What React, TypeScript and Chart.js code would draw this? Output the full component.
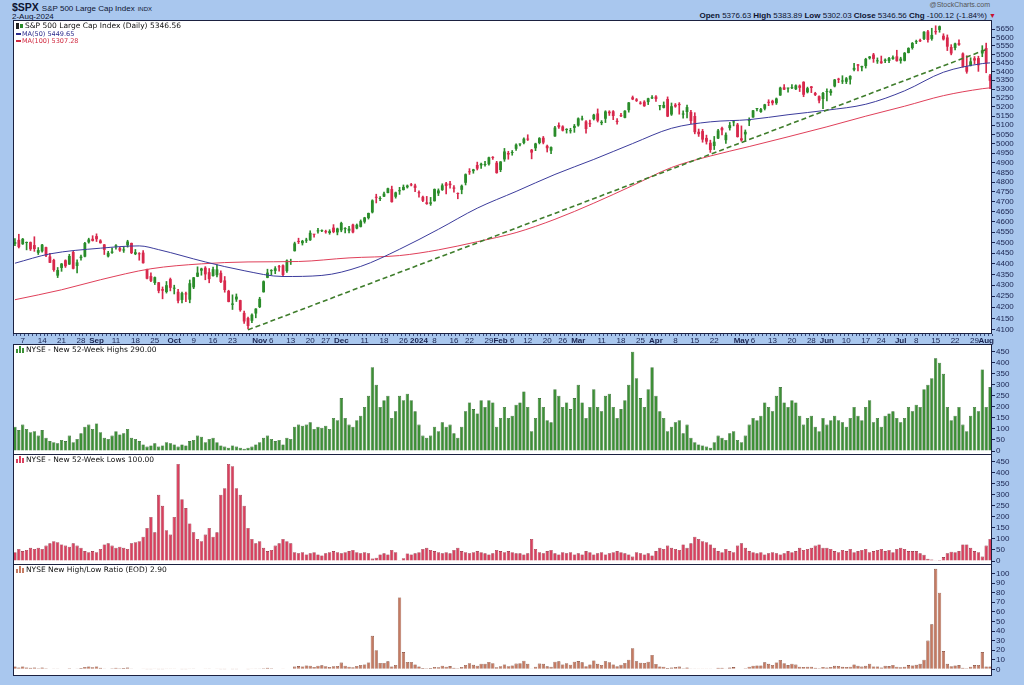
import React, { useEffect, useRef } from 'react';
import { Chart, registerables } from 'chart.js';
Chart.register(...registerables);

const FONT = "'Liberation Sans', Arial, sans-serif";
const LFONT = "'DejaVu Sans', Verdana, sans-serif";
const BG = '#a9c7ee';
const AXIS_C = '#1a2450';

// ---------- calendar (categories) ----------
const holidays = ['2023-09-04', '2023-11-23', '2023-12-25', '2024-01-01', '2024-01-15', '2024-02-19', '2024-03-29', '2024-05-27', '2024-06-19', '2024-07-04'];
function tradingDays(): string[] {
  const out: string[] = [];
  const d = new Date(Date.UTC(2023, 7, 3));
  const end = Date.UTC(2024, 7, 2);
  while (d.getTime() <= end) {
    const wd = d.getUTCDay();
    const s = d.toISOString().slice(0, 10);
    if (wd !== 0 && wd !== 6 && holidays.indexOf(s) < 0) out.push(s);
    d.setUTCDate(d.getUTCDate() + 1);
  }
  return out;
}
const dates = tradingDays();

// ---------- x tick labels ----------
const tickLabels: [string, string][] = [
  ['2023-08-07', '7'], ['2023-08-14', '14'], ['2023-08-21', '21'], ['2023-08-28', '28'], ['2023-09-01', 'Sep'], ['2023-09-11', '11'], ['2023-09-18', '18'], ['2023-09-25', '25'],
  ['2023-10-02', 'Oct'], ['2023-10-09', '9'], ['2023-10-16', '16'], ['2023-10-23', '23'], ['2023-11-01', 'Nov'], ['2023-11-06', '6'], ['2023-11-13', '13'], ['2023-11-20', '20'], ['2023-11-27', '27'],
  ['2023-12-01', 'Dec'], ['2023-12-11', '11'], ['2023-12-18', '18'], ['2023-12-26', '26'], ['2024-01-02', '2024'], ['2024-01-08', '8'], ['2024-01-16', '16'], ['2024-01-22', '22'], ['2024-01-29', '29'],
  ['2024-02-01', 'Feb'], ['2024-02-06', '6'], ['2024-02-12', '12'], ['2024-02-20', '20'], ['2024-02-26', '26'], ['2024-03-01', 'Mar'], ['2024-03-11', '11'], ['2024-03-18', '18'], ['2024-03-25', '25'],
  ['2024-04-01', 'Apr'], ['2024-04-08', '8'], ['2024-04-15', '15'], ['2024-04-22', '22'], ['2024-05-01', 'May'], ['2024-05-06', '6'], ['2024-05-13', '13'], ['2024-05-20', '20'], ['2024-05-28', '28'],
  ['2024-06-03', 'Jun'], ['2024-06-10', '10'], ['2024-06-17', '17'], ['2024-06-24', '24'], ['2024-07-01', 'Jul'], ['2024-07-08', '8'], ['2024-07-15', '15'], ['2024-07-22', '22'], ['2024-07-29', '29'], ['2024-08-01', 'Aug'],
];
const boldLabels = ['Sep', 'Oct', 'Nov', 'Dec', '2024', 'Feb', 'Mar', 'Apr', 'May', 'Jun', 'Jul', 'Aug'];

// ---------- S&P 500 daily OHLC (Aug 3 2023 .. Aug 2 2024) ----------
const opens = [
  4494, 4513, 4492, 4498, 4502, 4488, 4451, 4458, 4478, 4434, 4417, 4344, 4380, 4416, 4396, 4455, 4389, 4426, 4433, 4501, 4518,
  4531, 4510, 4491, 4434, 4451, 4480, 4473, 4462, 4487, 4498, 4445, 4447, 4452, 4375, 4342, 4310, 4313, 4282, 4269, 4328,
  4284, 4270, 4233, 4260, 4234, 4290, 4339, 4367, 4381, 4360, 4342, 4346, 4357, 4322, 4274, 4211, 4235, 4232, 4175, 4152, 4140, 4172,
  4201, 4268, 4334, 4365, 4366, 4384, 4392, 4365, 4407, 4459, 4505, 4497, 4509, 4511, 4539, 4554, 4555, 4555, 4546, 4572, 4549,
  4559, 4565, 4557, 4587, 4568, 4576, 4601, 4619, 4647, 4721, 4714, 4726, 4744, 4764, 4725, 4753, 4759, 4773, 4786, 4782,
  4745, 4725, 4697, 4690, 4703, 4742, 4759, 4793, 4792, 4772, 4740, 4760, 4796, 4853, 4856, 4888, 4886, 4888, 4892, 4926, 4900,
  4862, 4917, 4951, 4951, 4973, 4996, 5004, 5027, 4968, 4976, 5004, 5032, 4989, 4963, 5039, 5100, 5093, 5074, 5067, 5085,
  5098, 5131, 5120, 5109, 5133, 5164, 5111, 5135, 5174, 5176, 5124, 5154, 5140, 5182, 5254, 5242, 5220, 5229, 5227, 5248,
  5258, 5204, 5195, 5244, 5158, 5212, 5217, 5158, 5172, 5172, 5150, 5064, 5068, 5031, 5005, 4988, 5028, 5085, 5019, 5084, 5115, 5103,
  5029, 5050, 5122, 5142, 5188, 5172, 5190, 5225, 5234, 5221, 5264, 5310, 5303, 5305, 5299, 5320, 5341, 5282, 5315, 5278, 5260, 5244,
  5283, 5278, 5315, 5357, 5343, 5341, 5354, 5410, 5441, 5424, 5432, 5477, 5499, 5459, 5459, 5461, 5461, 5473, 5488,
  5462, 5462, 5508, 5537, 5572, 5584, 5591, 5636, 5591, 5638, 5645, 5610, 5600, 5543, 5537, 5566, 5505, 5429, 5433, 5477, 5478, 5505,
  5537, 5377,
];
const highs = [
  4519, 4540, 4520, 4503, 4503, 4528, 4476, 4491, 4478, 4449, 4421, 4382, 4401, 4418, 4444, 4458, 4418, 4440, 4501, 4521, 4533,
  4542, 4514, 4491, 4458, 4474, 4490, 4478, 4479, 4511, 4498, 4467, 4452, 4462, 4375, 4357, 4338, 4313, 4292, 4317, 4333,
  4300, 4281, 4268, 4268, 4324, 4336, 4385, 4379, 4386, 4377, 4384, 4394, 4366, 4340, 4277, 4256, 4260, 4232, 4183, 4156, 4171, 4194,
  4245, 4320, 4374, 4372, 4386, 4392, 4394, 4418, 4421, 4502, 4521, 4511, 4521, 4557, 4540, 4569, 4561, 4560, 4562, 4587, 4570,
  4599, 4572, 4579, 4590, 4590, 4610, 4623, 4644, 4710, 4738, 4726, 4749, 4769, 4779, 4749, 4773, 4785, 4785, 4793, 4789,
  4755, 4729, 4727, 4722, 4765, 4765, 4791, 4798, 4803, 4782, 4745, 4785, 4842, 4869, 4866, 4903, 4898, 4907, 4929, 4932, 4907,
  4906, 4975, 4960, 4964, 4999, 5000, 5031, 5048, 4970, 5003, 5033, 5039, 4993, 4984, 5094, 5112, 5097, 5081, 5083, 5104,
  5140, 5149, 5125, 5127, 5160, 5189, 5125, 5179, 5179, 5180, 5136, 5165, 5180, 5225, 5261, 5247, 5230, 5235, 5249, 5264,
  5263, 5209, 5228, 5256, 5222, 5219, 5224, 5178, 5211, 5181, 5168, 5079, 5077, 5046, 5019, 5039, 5077, 5089, 5058, 5115, 5124, 5110,
  5096, 5074, 5140, 5181, 5192, 5192, 5215, 5240, 5238, 5250, 5311, 5325, 5305, 5325, 5324, 5324, 5342, 5311, 5315, 5282, 5262, 5281,
  5302, 5299, 5355, 5362, 5376, 5366, 5376, 5447, 5442, 5432, 5477, 5488, 5506, 5479, 5490, 5473, 5483, 5491, 5524,
  5483, 5511, 5539, 5570, 5584, 5590, 5635, 5642, 5655, 5670, 5669, 5622, 5615, 5557, 5567, 5586, 5509, 5492, 5480, 5487, 5489, 5551,
  5566, 5384,
];
const lows = [
  4485, 4474, 4491, 4465, 4462, 4458, 4443, 4454, 4433, 4404, 4364, 4335, 4364, 4382, 4396, 4375, 4357, 4416, 4432, 4497, 4507,
  4505, 4497, 4443, 4431, 4448, 4468, 4458, 4453, 4478, 4447, 4442, 4416, 4402, 4329, 4316, 4303, 4265, 4238, 4264, 4274,
  4260, 4220, 4220, 4225, 4220, 4284, 4339, 4346, 4325, 4311, 4342, 4338, 4312, 4268, 4224, 4190, 4226, 4182, 4128, 4104, 4132, 4153,
  4198, 4268, 4334, 4348, 4353, 4365, 4344, 4359, 4396, 4459, 4495, 4488, 4500, 4510, 4526, 4545, 4553, 4545, 4540, 4547, 4537,
  4552, 4547, 4546, 4547, 4566, 4575, 4594, 4614, 4644, 4694, 4705, 4725, 4744, 4698, 4718, 4737, 4759, 4769, 4780, 4751,
  4723, 4700, 4687, 4682, 4703, 4731, 4757, 4740, 4769, 4748, 4715, 4740, 4785, 4839, 4845, 4862, 4870, 4882, 4887, 4917, 4845,
  4853, 4907, 4918, 4939, 4965, 4988, 4999, 5017, 4920, 4963, 4999, 4999, 4956, 4947, 5039, 5082, 5068, 5057, 5057, 5061,
  5094, 5127, 5056, 5092, 5128, 5117, 5102, 5114, 5153, 5130, 5105, 5146, 5140, 5171, 5240, 5230, 5215, 5203, 5213, 5246,
  5230, 5184, 5194, 5146, 5153, 5198, 5160, 5138, 5139, 5108, 5053, 5039, 5008, 4998, 4954, 4969, 5027, 5047, 5001, 5073, 5096, 5035,
  5013, 5012, 5097, 5142, 5178, 5170, 5183, 5207, 5211, 5214, 5264, 5296, 5283, 5302, 5297, 5286, 5257, 5278, 5280, 5263, 5222, 5191,
  5234, 5265, 5312, 5336, 5331, 5331, 5328, 5404, 5403, 5403, 5420, 5472, 5453, 5447, 5447, 5452, 5451, 5470, 5460,
  5448, 5461, 5508, 5530, 5563, 5574, 5587, 5571, 5583, 5619, 5631, 5584, 5522, 5497, 5526, 5553, 5425, 5390, 5432, 5444, 5401, 5486,
  5393, 5302,
];
const closes = [
  4502, 4478, 4518, 4499, 4468, 4469, 4464, 4490, 4438, 4404, 4370, 4370, 4400, 4388, 4436, 4376, 4406, 4433, 4498, 4515, 4508,
  4516, 4497, 4465, 4451, 4457, 4487, 4462, 4467, 4505, 4450, 4454, 4444, 4402, 4330, 4320, 4337, 4274, 4275, 4300, 4288,
  4288, 4229, 4264, 4258, 4309, 4336, 4358, 4377, 4350, 4328, 4374, 4373, 4315, 4278, 4224, 4217, 4248, 4187, 4137, 4117, 4167, 4194,
  4238, 4318, 4358, 4366, 4378, 4383, 4347, 4415, 4412, 4496, 4503, 4508, 4514, 4547, 4538, 4557, 4559, 4550, 4555, 4551, 4568,
  4595, 4570, 4567, 4549, 4586, 4604, 4622, 4644, 4707, 4720, 4719, 4741, 4768, 4698, 4747, 4755, 4775, 4782, 4783, 4770,
  4743, 4705, 4689, 4697, 4764, 4757, 4783, 4780, 4784, 4766, 4739, 4781, 4840, 4850, 4865, 4869, 4894, 4891, 4928, 4925, 4846,
  4906, 4959, 4943, 4954, 4995, 4998, 5027, 5022, 4953, 5001, 5030, 5006, 4976, 4982, 5087, 5089, 5070, 5078, 5070, 5096,
  5137, 5131, 5079, 5105, 5157, 5124, 5118, 5175, 5165, 5150, 5117, 5149, 5179, 5225, 5242, 5234, 5218, 5204, 5248, 5254,
  5244, 5206, 5211, 5147, 5204, 5202, 5210, 5161, 5199, 5123, 5062, 5051, 5022, 5011, 4967, 5011, 5071, 5072, 5048, 5100, 5116, 5036,
  5018, 5064, 5128, 5181, 5188, 5188, 5214, 5223, 5221, 5247, 5308, 5297, 5303, 5308, 5321, 5307, 5268, 5305, 5306, 5267, 5235, 5278,
  5283, 5291, 5354, 5353, 5347, 5361, 5375, 5421, 5434, 5432, 5473, 5487, 5473, 5465, 5448, 5469, 5478, 5483, 5460,
  5475, 5509, 5537, 5567, 5573, 5577, 5634, 5585, 5615, 5631, 5667, 5588, 5545, 5505, 5564, 5556, 5427, 5399, 5459, 5464, 5436, 5522,
  5447, 5347,
];

// moving averages read at sample dates
const ma50Points: [string, number][] = [
  ['2023-08-03', 4402], ['2023-08-16', 4446], ['2023-09-05', 4473], ['2023-09-19', 4484], ['2023-09-26', 4466], ['2023-10-12', 4408],
  ['2023-10-26', 4367], ['2023-11-09', 4340], ['2023-11-24', 4345], ['2023-12-08', 4387], ['2023-12-22', 4468], ['2024-01-09', 4564],
  ['2024-01-24', 4668], ['2024-02-07', 4752], ['2024-02-22', 4839], ['2024-03-07', 4917], ['2024-03-21', 5001], ['2024-04-05', 5083],
  ['2024-04-19', 5118], ['2024-05-03', 5130], ['2024-05-17', 5157], ['2024-06-03', 5182], ['2024-06-17', 5215], ['2024-07-02', 5290],
  ['2024-07-17', 5396], ['2024-07-31', 5446], ['2024-08-02', 5450],
];
const ma100Points: [string, number][] = [
  ['2023-08-03', 4234], ['2023-08-21', 4279], ['2023-09-05', 4325], ['2023-09-22', 4376], ['2023-10-11', 4399], ['2023-10-27', 4408],
  ['2023-11-15', 4410], ['2023-12-05', 4427], ['2023-12-22', 4438], ['2024-01-09', 4465], ['2024-01-24', 4504], ['2024-02-07', 4548],
  ['2024-02-22', 4613], ['2024-03-07', 4693], ['2024-03-21', 4782], ['2024-04-05', 4875], ['2024-04-19', 4935], ['2024-05-03', 4985],
  ['2024-05-17', 5037], ['2024-06-03', 5091], ['2024-06-17', 5149], ['2024-07-02', 5204], ['2024-07-17', 5263], ['2024-07-31', 5302],
  ['2024-08-02', 5307],
];
const trendPoints: [string, number][] = [['2023-10-27', 4100], ['2024-08-01', 5528]];

// ---------- NYSE breadth ----------
const newHighs = [
  110, 95, 120, 100, 85, 90, 70, 95, 60, 45, 40, 35, 50, 45, 70, 40, 55, 80, 110, 120, 100,
  125, 85, 60, 55, 70, 90, 75, 80, 100, 60, 55, 45, 30, 20, 25, 35, 20, 25, 40, 35,
  30, 20, 30, 25, 45, 50, 70, 65, 40, 55, 60, 40, 25, 20, 15, 25, 20, 15, 10, 15, 20, 30,
  40, 60, 70, 55, 45, 50, 30, 60, 55, 110, 120, 115, 120, 130, 100, 110, 105, 115, 100, 150, 140,
  240, 150, 120, 110, 140, 160, 200, 250, 380, 300, 200, 230, 250, 150, 180, 250, 230, 260, 230, 180,
  120, 70, 60, 70, 110, 90, 130, 110, 120, 80, 60, 110, 180, 220, 190, 170, 230, 200, 230, 220, 110,
  150, 200, 150, 160, 210, 220, 270, 200, 90, 150, 240, 200, 140, 130, 280, 250, 200, 220, 190, 240,
  300, 220, 150, 200, 280, 200, 180, 250, 260, 200, 150, 190, 230, 300, 450, 330, 240, 200, 280, 380,
  250, 180, 150, 90, 110, 130, 140, 80, 120, 60, 40, 30, 25, 20, 15, 40, 70, 60, 50, 80, 90, 50,
  40, 70, 120, 150, 140, 160, 220, 200, 180, 250, 290, 220, 200, 230, 220, 160, 120, 150, 160, 110, 90, 150,
  120, 140, 160, 140, 130, 110, 150, 200, 160, 140, 200, 230, 130, 150, 110, 160, 170, 180, 150,
  130, 150, 200, 180, 210, 200, 280, 300, 330, 420, 400, 350, 200, 140, 160, 200, 120, 90, 160, 200, 180, 370,
  200, 290,
];
const newLows = [
  40, 55, 45, 50, 60, 55, 60, 55, 70, 80, 90, 85, 75, 70, 65, 80, 70, 60, 45, 40, 45,
  40, 55, 75, 80, 70, 60, 65, 60, 55, 80, 85, 90, 110, 150, 200, 130, 300, 250, 140, 120,
  200, 440, 280, 240, 170, 130, 100, 90, 120, 150, 110, 130, 300, 330, 440, 430, 330, 300, 250, 150, 100, 80,
  90, 60, 45, 50, 70, 80, 100, 90, 80, 40, 35, 40, 30, 35, 40, 30, 25, 35, 40, 45, 40,
  35, 40, 45, 50, 40, 35, 40, 35, 11, 15, 30, 35, 30, 50, 40, 3, 13, 34, 30, 35,
  40, 55, 60, 50, 45, 40, 35, 40, 35, 50, 60, 45, 40, 35, 40, 45, 40, 35, 30, 35, 50,
  45, 40, 45, 40, 35, 35, 30, 35, 100, 55, 40, 35, 45, 50, 35, 30, 40, 35, 40, 30,
  35, 30, 45, 40, 30, 35, 40, 30, 35, 40, 45, 40, 35, 30, 20, 40, 35, 30, 35, 25,
  45, 60, 55, 70, 60, 55, 50, 75, 60, 80, 110, 100, 90, 85, 75, 60, 45, 40, 55, 45, 40, 70,
  80, 60, 45, 40, 35, 40, 30, 35, 40, 35, 30, 35, 45, 40, 45, 60, 50, 55, 60, 70, 75, 60,
  60, 55, 45, 40, 50, 45, 55, 40, 45, 50, 55, 40, 45, 50, 55, 45, 50, 40, 55,
  60, 55, 45, 45, 45, 35, 28, 10, 7, 4, 5, 18, 35, 42, 40, 45, 75, 75, 60, 45, 40, 20,
  70, 100,
];
const hlRatio = [
  3, 2, 3, 2, 1.5, 2, 1.2, 2, 1, 0.6, 0.4, 0.4, 0.7, 0.6, 1, 0.5, 0.8, 1.3, 2.4, 3, 2.2,
  3, 1.5, 0.8, 0.7, 1, 1.5, 1.2, 1.3, 1.8, 0.8, 0.6, 0.5, 0.3, 0.1, 0.1, 0.3, 0.1, 0.1, 0.3, 0.3,
  0.2, 0, 0.1, 0.1, 0.3, 0.4, 0.7, 0.7, 0.3, 0.4, 0.5, 0.3, 0.1, 0.1, 0, 0.1, 0.1, 0, 0, 0.1, 0.2, 0.4,
  0.4, 1, 1.6, 1.1, 0.6, 0.6, 0.3, 0.7, 0.6, 2.8, 3.4, 2.9, 4, 3.7, 2.5, 3.7, 4.2, 3.3, 2.5, 3.3, 3.5,
  7, 3.8, 2.7, 2.2, 3.5, 4.6, 5, 7.1, 35, 20, 6.7, 6.6, 8.3, 3, 4.5, 75, 18, 7.7, 7.7, 5.1,
  3, 1.3, 1, 1.4, 2.4, 2.2, 3.7, 2.7, 3.4, 1.6, 1, 2.4, 4.5, 6.3, 4.7, 3.8, 5.8, 5.7, 7.7, 6.3, 2.2,
  3.3, 5, 3.3, 4, 6, 6.3, 9, 5.7, 0.9, 2.7, 6, 5.7, 3.1, 2.6, 8, 8.3, 5, 6.3, 4.8, 8,
  8.6, 7.3, 3.3, 5, 9.3, 5.7, 4.5, 8.3, 7.4, 5, 3.3, 4.8, 6.6, 10, 22, 8.3, 6.9, 6.7, 8, 15,
  5.6, 3, 2.7, 1.3, 1.8, 2.4, 2.8, 1.1, 2, 0.8, 0.4, 0.3, 0.3, 0.2, 0.2, 0.7, 1.6, 1.5, 0.9, 1.8, 2.3, 0.7,
  0.5, 1.2, 2.7, 3.8, 4, 4, 7.3, 5.7, 4.5, 7.1, 9.7, 6.3, 4.4, 5.8, 4.9, 2.7, 2.4, 2.7, 2.7, 1.6, 1.2, 2.5,
  2, 2.5, 3.6, 3.5, 2.6, 2.4, 2.7, 5, 3.6, 2.8, 3.6, 5.8, 2.9, 3, 2, 3.6, 3.4, 4.5, 2.7,
  2.2, 2.7, 4.4, 4, 4.7, 5.7, 10, 30, 47, 105, 80, 19, 5.7, 3.3, 4, 4.4, 1.6, 1.2, 2.7, 4.4, 4.5, 18,
  2.9, 2.9,
];

// ---------- axis ticks ----------
const priceTicks: number[] = [];
for (let v = 4100; v <= 5650; v += 50) priceTicks.push(v);
const breadthTicks = [0, 50, 100, 150, 200, 250, 300, 350, 400, 450];
const ratioTicks = [0, 10, 20, 30, 40, 50, 60, 70, 80, 90, 100];

// ---------- helpers ----------
function sparse(points: [string, number][]) {
  const arr: (number | null)[] = dates.map(() => null);
  points.forEach(([d, v]) => { const i = dates.indexOf(d); if (i >= 0) arr[i] = v; });
  return arr;
}

const framePlugin = {
  id: 'frame',
  beforeDraw(chart: any) {
    const { ctx, chartArea: a } = chart;
    ctx.save();
    ctx.fillStyle = '#ffffff';
    ctx.fillRect(a.left, a.top, a.right - a.left, a.bottom - a.top);
    ctx.restore();
  },
  afterDraw(chart: any) {
    const { ctx, chartArea: a } = chart;
    ctx.save();
    ctx.strokeStyle = '#1b2140';
    ctx.lineWidth = 1;
    ctx.strokeRect(Math.round(a.left) + 0.5, Math.round(a.top) + 0.5, Math.round(a.right - a.left) - 1, Math.round(a.bottom - a.top) - 1);
    ctx.restore();
  },
};

function yAxis(type: string, min: number, max: number, ticks: number[]) {
  return {
    type, position: 'right', min, max,
    afterBuildTicks: (ax: any) => { ax.ticks = ticks.map((v) => ({ value: v })); },
    afterFit: (ax: any) => { ax.width = 32; ax.paddingTop = 0; ax.paddingBottom = 0; },
    ticks: { autoSkip: false, padding: 1, color: AXIS_C, font: { family: FONT, size: 8 }, callback: (v: any) => String(v) },
    grid: { drawOnChartArea: false, drawTicks: true, tickLength: 3, color: AXIS_C },
    border: { display: false },
  };
}

const baseOptions = {
  animation: false,
  responsive: false,
  maintainAspectRatio: false,
  events: [],
  layout: { padding: { left: 13, right: 0, top: 0, bottom: 0 } },
  plugins: { legend: { display: false }, tooltip: { enabled: false } },
};

function priceConfig(): any {
  const up = closes.map((c, i) => c >= opens[i]);
  const colors = up.map((u) => (u ? '#2a8c2a' : '#d8284c'));
  const labelMap: Record<number, string> = {};
  tickLabels.forEach(([d, l]) => { const i = dates.indexOf(d); if (i >= 0) labelMap[i] = l; });
  return {
    type: 'bar',
    data: {
      labels: dates,
      datasets: [
        { type: 'line', data: sparse(trendPoints), spanGaps: true, borderColor: '#3f7d2c', borderWidth: 1.6, borderDash: [5, 3], pointRadius: 0, order: 0 },
        { type: 'line', data: sparse(ma50Points), spanGaps: true, borderColor: '#3c3c9c', borderWidth: 1, pointRadius: 0, cubicInterpolationMode: 'monotone', order: 1 },
        { type: 'line', data: sparse(ma100Points), spanGaps: true, borderColor: '#e0405a', borderWidth: 1, pointRadius: 0, cubicInterpolationMode: 'monotone', order: 1 },
        { type: 'bar', data: opens.map((o, i) => [o, closes[i]]), backgroundColor: colors, borderWidth: 0, barPercentage: 0.72, categoryPercentage: 1, grouped: false, minBarLength: 1, order: 2 },
        { type: 'bar', data: lows.map((l, i) => [l, highs[i]]), backgroundColor: colors, borderWidth: 0, barThickness: 1, grouped: false, order: 3 },
      ],
    },
    options: {
      ...baseOptions,
      scales: {
        x: {
          type: 'category', offset: true, position: 'bottom',
          afterFit: (ax: any) => { ax.height = 11; ax.paddingLeft = 0; ax.paddingRight = 0; },
          ticks: {
            autoSkip: false, maxRotation: 0, minRotation: 0, padding: 0, color: AXIS_C,
            font: (ctx: any) => ({ family: FONT, size: 8, weight: boldLabels.indexOf(labelMap[ctx.index]) >= 0 ? 'bold' : 'normal' }),
            callback: (_v: any, i: number) => labelMap[i] || '',
          },
          grid: { drawOnChartArea: false, drawTicks: true, tickLength: 2, color: '#3a4a7a' },
          border: { display: false },
        },
        y: yAxis('logarithmic', 4082, 5705, priceTicks),
      },
    },
    plugins: [framePlugin],
  };
}

function barConfig(values: number[], fill: string, edge: string, min: number, max: number, ticks: number[]): any {
  return {
    type: 'bar',
    data: {
      labels: dates,
      datasets: [{ data: values, backgroundColor: fill, borderColor: edge, borderWidth: 0.6, barPercentage: 0.85, categoryPercentage: 1 }],
    },
    options: {
      ...baseOptions,
      scales: {
        x: { type: 'category', offset: true, display: false },
        y: yAxis('linear', min, max, ticks),
      },
    },
    plugins: [framePlugin],
  };
}

const legendText: React.CSSProperties = { position: 'absolute', fontFamily: LFONT, fontSize: 7.5, whiteSpace: 'nowrap', color: '#111', lineHeight: '9px' };

function BarIcon({ color }: { color: string }) {
  return (
    <span style={{ display: 'inline-flex', alignItems: 'flex-end', height: 7, marginRight: 2, verticalAlign: 'middle' }}>
      <span style={{ width: 2, height: 4, background: color, marginRight: 1 }} />
      <span style={{ width: 2, height: 7, background: color, marginRight: 1 }} />
      <span style={{ width: 2, height: 5, background: color }} />
    </span>
  );
}

export default function App() {
  const r1 = useRef<HTMLCanvasElement>(null);
  const r2 = useRef<HTMLCanvasElement>(null);
  const r3 = useRef<HTMLCanvasElement>(null);
  const r4 = useRef<HTMLCanvasElement>(null);

  useEffect(() => {
    const charts = [
      new Chart(r1.current as HTMLCanvasElement, priceConfig()),
      new Chart(r2.current as HTMLCanvasElement, barConfig(newHighs, '#3d8f36', '#1f5a1c', -18, 485, breadthTicks)),
      new Chart(r3.current as HTMLCanvasElement, barConfig(newLows, '#d8405e', '#8a1f34', -18, 485, breadthTicks)),
      new Chart(r4.current as HTMLCanvasElement, barConfig(hlRatio, '#c47a62', '#7a4030', -7, 110, ratioTicks)),
    ];
    return () => charts.forEach((c) => c.destroy());
  }, []);

  return (
    <div style={{ position: 'fixed', left: 0, top: 0, width: 1024, height: 685, background: BG, overflow: 'hidden', fontFamily: FONT, color: '#111' }}>
      <div style={{ position: 'absolute', left: 12, top: 1, display: 'flex', alignItems: 'baseline', whiteSpace: 'nowrap' }}>
        <span style={{ fontWeight: 'bold', fontSize: 10.5, color: '#0d1330' }}>$SPX</span>
        <span style={{ fontSize: 8, marginLeft: 3, color: '#0d1330' }}>S&amp;P 500 Large Cap Index</span>
        <span style={{ fontSize: 6, marginLeft: 3, color: '#0d1330' }}>INDX</span>
      </div>
      <div style={{ position: 'absolute', left: 12, top: 12, fontSize: 8, color: '#0d1330' }}>2-Aug-2024</div>
      <div style={{ position: 'absolute', right: 34, top: 1, fontSize: 7, color: '#555' }}>@StockCharts.com</div>
      <div style={{ position: 'absolute', right: 28, top: 11, fontSize: 8, whiteSpace: 'nowrap', color: '#0d1330' }}>
        <b>Open</b> 5376.63 <b>High</b> 5383.89 <b>Low</b> 5302.03 <b>Close</b> 5346.56 <b>Chg</b> -100.12 (-1.84%) <span style={{ color: '#c8102e', fontSize: 7 }}>▼</span>
      </div>

      <canvas ref={r1} width={1024} height={325} style={{ position: 'absolute', left: 0, top: 20 }} />
      <canvas ref={r2} width={1024} height={111} style={{ position: 'absolute', left: 0, top: 344 }} />
      <canvas ref={r3} width={1024} height={111} style={{ position: 'absolute', left: 0, top: 454 }} />
      <canvas ref={r4} width={1024} height={112} style={{ position: 'absolute', left: 0, top: 564 }} />

      <div style={{ ...legendText, left: 16, top: 21 }}>
        <span style={{ display: 'inline-block', width: 3, height: 6, background: '#222', marginRight: 1, verticalAlign: 'middle' }} />
        <span style={{ display: 'inline-block', width: 3, height: 4, background: '#2a8c2a', marginRight: 2, verticalAlign: 'middle' }} />
        S&amp;P 500 Large Cap Index (Daily) 5346.56
      </div>
      <div style={{ ...legendText, left: 16, top: 30, fontSize: 6.5, color: '#2c2c8c' }}>
        <span style={{ display: 'inline-block', width: 5, height: 1.5, background: '#2c2c8c', verticalAlign: 'middle', marginRight: 1 }} />MA(50) 5449.65
      </div>
      <div style={{ ...legendText, left: 16, top: 37, fontSize: 6.5, color: '#d02a40' }}>
        <span style={{ display: 'inline-block', width: 5, height: 1.5, background: '#d02a40', verticalAlign: 'middle', marginRight: 1 }} />MA(100) 5307.28
      </div>

      <div style={{ ...legendText, left: 16, top: 345 }}><BarIcon color="#3d8f36" />NYSE - New 52-Week Highs 290.00</div>
      <div style={{ ...legendText, left: 16, top: 455 }}><BarIcon color="#d8405e" />NYSE - New 52-Week Lows 100.00</div>
      <div style={{ ...legendText, left: 16, top: 565 }}><BarIcon color="#c47a62" />NYSE New High/Low Ratio (EOD) 2.90</div>
    </div>
  );
}
